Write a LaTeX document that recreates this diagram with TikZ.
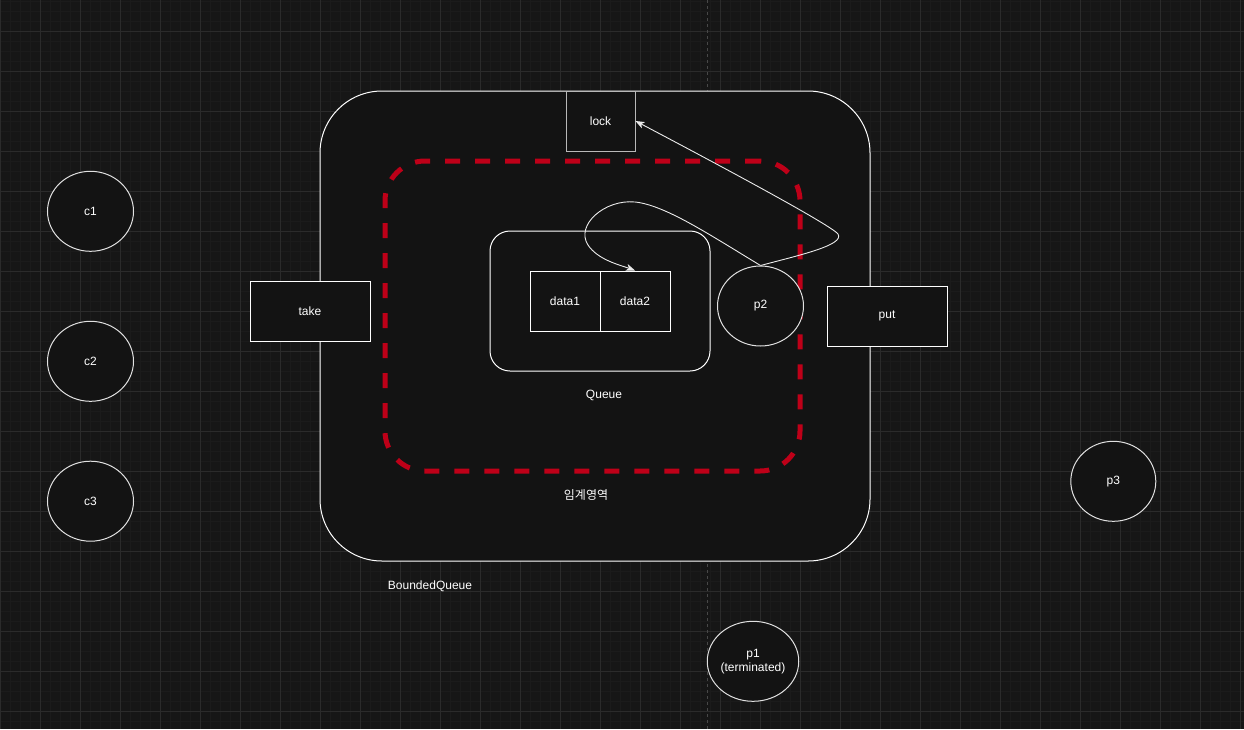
\documentclass[tikz,border=0pt]{standalone}
\usepackage{fontspec}
\setmainfont{Liberation Sans}
\newfontfamily\krfont{Noto Sans CJK KR}
\usetikzlibrary{arrows.meta,shapes.geometric}
\definecolor{bgc}{RGB}{22,22,22}
\definecolor{minorc}{RGB}{27,27,27}
\definecolor{majorc}{RGB}{43,43,43}
\definecolor{fillc}{RGB}{19,19,19}
\definecolor{critred}{RGB}{190,0,24}
\definecolor{lockc}{RGB}{185,185,185}
\definecolor{circc}{RGB}{225,225,225}
\definecolor{pagec}{RGB}{72,72,72}
\tikzset{
  lbl/.style={text=white,font=\fontsize{12}{14}\selectfont,inner sep=0pt},
  boxw/.style={draw=white,fill=fillc,line width=1pt,rectangle,inner sep=0pt,text=white,font=\fontsize{12}{14}\selectfont},
  circw/.style={draw=circc,fill=fillc,line width=1pt,ellipse,inner sep=0pt,minimum width=86pt,minimum height=80pt,text=white,align=center,font=\fontsize{12}{14}\selectfont},
  arr/.style={draw=white!92!black,line width=0.9pt,-{Stealth[length=9pt,width=7pt,inset=2.5pt]}},
}
\begin{document}
\begin{tikzpicture}[x=1pt,y=-1pt]
\useasboundingbox (0,0) rectangle (1244,729);
\fill[bgc] (0,0) rectangle (1244,729);
% grid
\foreach \x in {0,10,...,1240} \draw[minorc,line width=1pt] (\x,0) -- (\x,729);
\foreach \y in {1.5,11.5,...,721.5} \draw[minorc,line width=1pt] (0,\y) -- (1244,\y);
\foreach \x in {0,40,...,1240} \draw[majorc,line width=1pt] (\x,0) -- (\x,729);
\foreach \y in {31.5,71.5,...,711.5} \draw[majorc,line width=1pt] (0,\y) -- (1244,\y);
% page break line
\draw[pagec,line width=1pt,dash pattern=on 3pt off 3pt] (707.3,0) -- (707.3,729);
% BoundedQueue
\node[boxw,minimum width=550pt,minimum height=470pt,rounded corners=62pt] (bq) at (595,326) {};
\node[lbl] (bqlabel) at (430,586) {BoundedQueue};
% take / put
\node[boxw,minimum width=120pt,minimum height=60pt] (take) at (310,311) {take};
\node[boxw,minimum width=120pt,minimum height=60pt] (put) at (887,316) {put};
% critical section
\node[draw=critred,line width=5pt,dash pattern=on 15pt off 15pt,rectangle,rounded corners=40pt,minimum width=415pt,minimum height=310pt,inner sep=0pt] (crit) at (592.5,316) {};
\node[lbl,font=\krfont\fontsize{12}{14}\selectfont] (critlabel) at (586,495) {임계영역};
% Queue
\node[boxw,minimum width=220pt,minimum height=140pt,rounded corners=20pt] (queue) at (600,301) {};
\node[lbl] (queuelabel) at (604,395) {Queue};
\node[boxw,minimum width=70pt,minimum height=60pt] (data1) at (565,301) {data1};
\node[boxw,minimum width=70pt,minimum height=60pt] (data2) at (635,301) {data2};
% lock
\node[boxw,draw=lockc,minimum width=69pt,minimum height=60pt] (lock) at (600.5,121) {lock};
% circles
\node[circw] (p2) at (760.5,306) {p2};
\node[circw] (c1) at (90.5,211.3) {c1};
\node[circw] (c2) at (90.5,361.3) {c2};
\node[circw] (c3) at (90.5,501.2) {c3};
\node[circw,minimum width=85pt] (p3) at (1113.3,481.3) {p3};
\node[circw,minimum width=85pt] (p1) at (753,661.3) {p1\\(terminated)};
% arrows
\draw[arr] (p2.north) .. controls (710,235) and (665,205) .. (635,202)
  .. controls (605,199) and (575,225) .. (588,245)
  .. controls (598,260) and (620,265) .. (data2.north);
\draw[arr] (p2.north) .. controls (800,255) and (845,245) .. (838,234)
  .. controls (830,224) and (700,155) .. (lock.east);
\end{tikzpicture}
\end{document}
